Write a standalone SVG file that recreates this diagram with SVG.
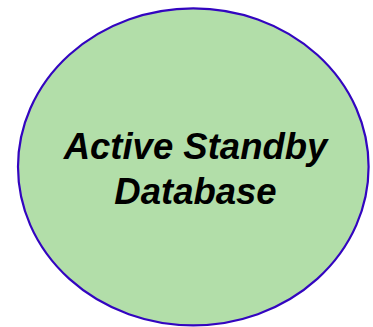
<svg xmlns="http://www.w3.org/2000/svg" width="373" height="327" viewBox="0 0 373 327">
<style>
.lbl{font-family:"Liberation Sans",Arial,sans-serif;font-weight:bold;font-style:italic;font-size:36.5px;fill:#000;text-anchor:middle}
</style>
<rect width="373" height="327" fill="#fff"/>
<g id="node-db">
<ellipse cx="193.3" cy="166.8" rx="175.3" ry="158.5" fill="#b2dea9" stroke="#3305c0" stroke-width="2.2"/>
<text class="lbl" x="195.5" y="158.5">Active Standby</text>
<text class="lbl" x="195.5" y="203.5">Database</text>
</g>
<g id="connectors"/>
</svg>
